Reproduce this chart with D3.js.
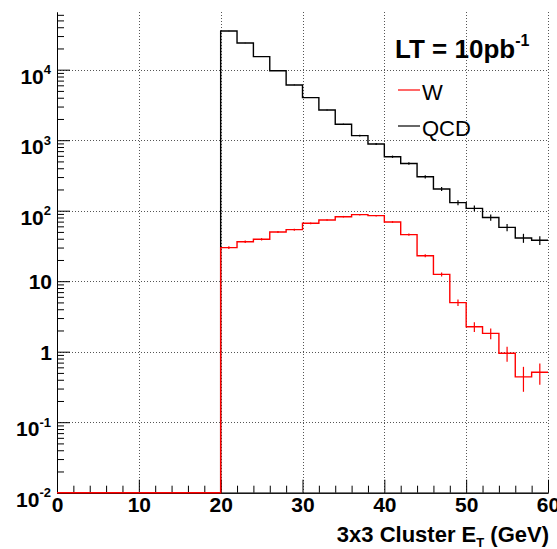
<!DOCTYPE html>
<html>
<head>
<meta charset="utf-8">
<script src="https://cdn.jsdelivr.net/npm/d3@7"></script>
<style>
  html, body { margin: 0; padding: 0; background: #fff; }
  svg { display: block; }
  text { font-family: "Liberation Sans", Arial, Helvetica, sans-serif; }
</style>
</head>
<body>
<svg id="chart" width="557" height="549"></svg>
<script>
// ---------- data ----------
const binEdges = [0,2,4,6,8,10,12,14,16,18,20,22,24,26,28,30,32,34,36,38,40,42,44,46,48,50,52,54,56,58,60];
const qcdValues = [0,0,0,0,0,0,0,0,0,0,
  35400,23900,15300,9680,6070,4010,2680,1680,1160,883,
  583,468,303,203,130,108,80,58,41,38];
const qcdErrors = [0,0,0,0,0,0,0,0,0,0,
  170,140,110,88,70,57,46,37,30,27,
  22,19,16,13,11,10,8,7,6,5.5];
const wValues = [0,0,0,0,0,0,0,0,0,0,
  29.9,36.3,39.3,49.9,53.8,66.2,73.8,82.2,87.8,85,
  69.2,45.7,23,12.5,4.96,2.26,1.82,0.95,0.44,0.51];
const wErrors = [0,0,0,0,0,0,0,0,0,0,
  1.3,1.4,1.5,1.65,1.7,1.9,2.0,2.1,2.2,2.15,
  1.95,1.6,1.1,0.83,0.52,0.35,0.32,0.23,0.17,0.17];

const xTickValues = [0,10,20,30,40,50,60];
const xTickLabels = ["0","10","20","30","40","50","60"];
const xMinorTicks = [2,4,6,8,12,14,16,18,22,24,26,28,32,34,36,38,42,44,46,48,52,54,56,58];
const yTickValues = [0.01,0.1,1,10,100,1000,10000];
const yTickLabels = ["10^-2","10^-1","1","10","10^2","10^3","10^4"];
const yDomain = [0.01, 65800];
const xDomain = [0, 60];
const seriesNames = ["W","QCD"];
const seriesColors = ["#ff0000","#000000"];
const lumiLabel = ["LT = 10pb", "-1"];
const xTitle = ["3x3 Cluster E", "T", " (GeV)"];

// ---------- layout ----------
const svg = d3.select("#chart");
const L = 57, R = 548, T = 12, B = 492.7;
const FONT = "'Liberation Sans', Arial, sans-serif";
const x = d3.scaleLinear().domain(xDomain).range([L, R]);
const y = d3.scaleLog().domain(yDomain).range([B, T]);

// minor y ticks
const yMinor = [];
yTickValues.forEach(d => { for (let k = 2; k <= 9; k++) { const v = d * k; if (v <= yDomain[1]) yMinor.push(v); } });

// ---------- grid ----------
const grid = svg.append("g").attr("stroke", "#555").attr("stroke-width", 1).attr("stroke-dasharray", "1,2");
grid.selectAll("line.gx").data(xTickValues.filter(d => d > xDomain[0])).join("line")
  .attr("x1", d => Math.round(x(d)) + 0.5).attr("x2", d => Math.round(x(d)) + 0.5)
  .attr("y1", T).attr("y2", B);
grid.selectAll("line.gy").data(yTickValues.filter(d => d > yDomain[0])).join("line")
  .attr("x1", L).attr("x2", R)
  .attr("y1", d => Math.round(y(d)) + 0.5).attr("y2", d => Math.round(y(d)) + 0.5);

// ---------- axes ----------
const xAxisMinor = d3.axisBottom(x).tickValues(xMinorTicks).tickSizeInner(-7).tickSizeOuter(0).tickFormat("");
const xAxis = d3.axisBottom(x).tickValues(xTickValues).tickSizeInner(-13).tickSizeOuter(0)
  .tickPadding(4).tickFormat((d, i) => xTickLabels[i]);
const gxm = svg.append("g").attr("transform", `translate(0,${B})`).call(xAxisMinor);
const gx = svg.append("g").attr("transform", `translate(0,${B})`).call(xAxis);
[gx, gxm].forEach(g => { g.select(".domain").attr("stroke", "#000"); g.selectAll(".tick line").attr("stroke", "#000"); });
gx.selectAll("text").attr("font-size", 21).attr("font-weight", "bold").attr("fill", "#000")
  .attr("font-family", FONT);

const yAxisMinor = d3.axisLeft(y).tickValues(yMinor).tickSizeInner(-7).tickSizeOuter(0).tickFormat("");
const yAxis = d3.axisLeft(y).tickValues(yTickValues).tickSizeInner(-13).tickSizeOuter(0).tickPadding(6).tickFormat("");
const gym = svg.append("g").attr("transform", `translate(${L},0)`).call(yAxisMinor);
const gy = svg.append("g").attr("transform", `translate(${L},0)`).call(yAxis);
[gy, gym].forEach(g => { g.select(".domain").attr("stroke", "#000"); g.selectAll(".tick line").attr("stroke", "#000"); });
gy.selectAll(".tick").each(function(d, i) {
  const lab = yTickLabels[i];
  const t = d3.select(this).select("text").text(null).attr("dy", null)
    .attr("font-size", 21).attr("font-weight", "bold").attr("fill", "#000")
    .attr("font-family", FONT);
  const parts = lab.split("^");
  if (parts.length === 2) {
    t.attr("y", 13.5).attr("x", -6);
    t.append("tspan").text(parts[0]);
    t.append("tspan").text(parts[1]).attr("font-size", 13).attr("dy", -9.5);
  } else {
    t.attr("y", 7.5).attr("x", -5);
    t.append("tspan").text(parts[0]);
  }
});

// ---------- histograms ----------
function stepPath(vals) {
  const p = d3.path();
  const yy = v => y(Math.max(v, yDomain[0]));
  p.moveTo(x(binEdges[0]), yy(vals[0]));
  for (let i = 0; i < vals.length; i++) {
    p.lineTo(x(binEdges[i + 1]), yy(vals[i]));
    if (i < vals.length - 1) p.lineTo(x(binEdges[i + 1]), yy(vals[i + 1]));
  }
  return p.toString();
}
function drawHist(vals, errs, color) {
  const g = svg.append("g");
  g.append("path").attr("d", stepPath(vals)).attr("fill", "none").attr("stroke", color).attr("stroke-width", 1.4);
  const idx = d3.range(vals.length).filter(i => vals[i] > 0);
  g.selectAll("line").data(idx).join("line")
    .attr("x1", i => x((binEdges[i] + binEdges[i + 1]) / 2))
    .attr("x2", i => x((binEdges[i] + binEdges[i + 1]) / 2))
    .attr("y1", i => y(Math.max(vals[i] - errs[i], yDomain[0])))
    .attr("y2", i => y(vals[i] + errs[i]))
    .attr("stroke", color).attr("stroke-width", 1.2);
}
drawHist(qcdValues, qcdErrors, seriesColors[1]);
drawHist(wValues, wErrors, seriesColors[0]);

// ---------- legend ----------
const lumi = svg.append("text").attr("x", 395).attr("y", 58)
  .attr("font-size", 26).attr("font-weight", "bold").attr("fill", "#000");
lumi.append("tspan").text(lumiLabel[0]);
lumi.append("tspan").text(lumiLabel[1]).attr("font-size", 16).attr("dy", -12);

const legY = [90, 126];
seriesNames.forEach((name, i) => {
  svg.append("line").attr("x1", 398).attr("x2", 420).attr("y1", legY[i]).attr("y2", legY[i])
    .attr("stroke", seriesColors[i]).attr("stroke-width", 1.2);
  svg.append("text").attr("x", 422).attr("y", legY[i] + 10).attr("font-size", 22)
    .attr("fill", "#000").text(name);
});

// ---------- x title ----------
const xt = svg.append("text").attr("x", 549).attr("y", 542).attr("text-anchor", "end")
  .attr("font-size", 22).attr("font-weight", "bold").attr("fill", "#000");
xt.append("tspan").text(xTitle[0]);
xt.append("tspan").text(xTitle[1]).attr("font-size", 13).attr("dy", 5);
xt.append("tspan").text(xTitle[2]).attr("dy", -5);
</script>
</body>
</html>
